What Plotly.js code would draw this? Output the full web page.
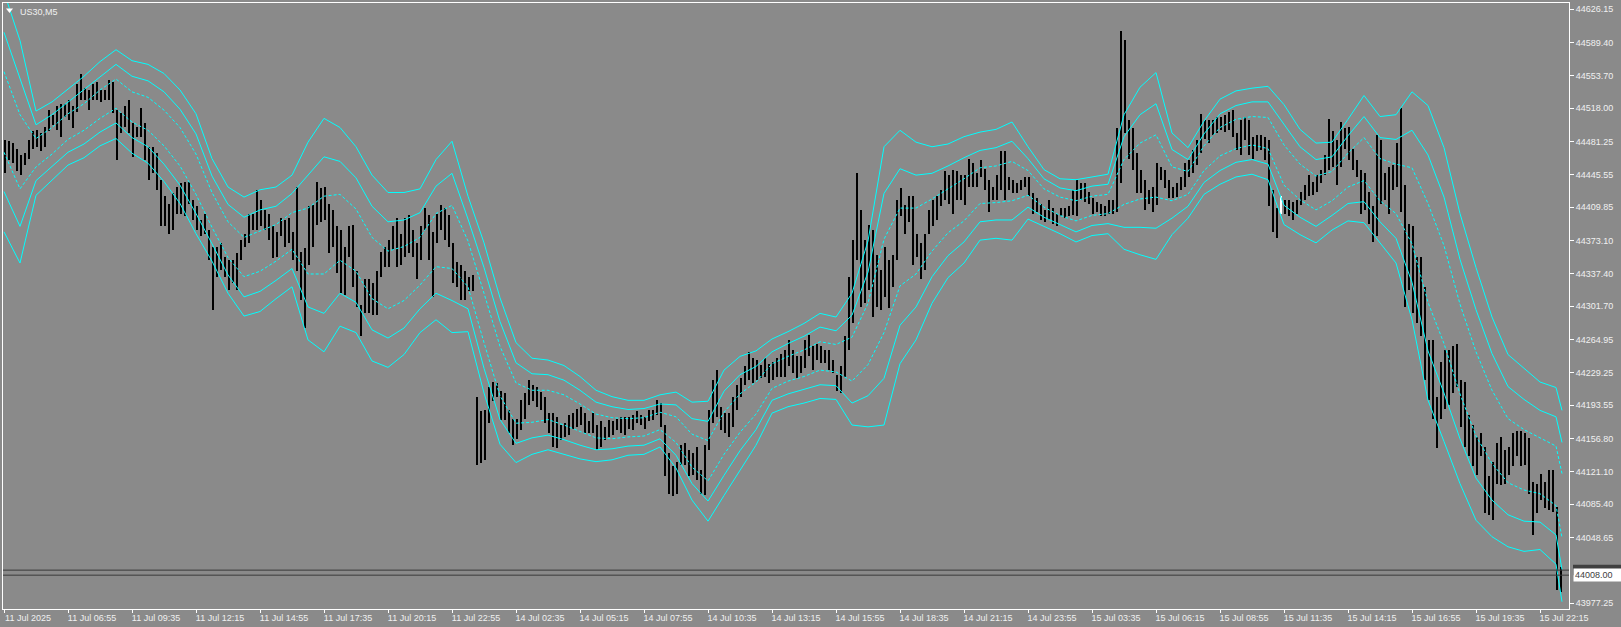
<!DOCTYPE html>
<html><head><meta charset="utf-8">
<script src="https://cdn.plot.ly/plotly-3.0.1.min.js"></script>
<style>html,body{margin:0;padding:0;background:#8a8a8a;overflow:hidden}#chart{width:1621px;height:627px}</style>
</head><body><div id="chart"></div>
<script>
const symbolTitle = 'US30,M5';
const timeLabels = ['11 Jul 2025','11 Jul 06:55','11 Jul 09:35','11 Jul 12:15','11 Jul 14:55','11 Jul 17:35','11 Jul 20:15','11 Jul 22:55','14 Jul 02:35','14 Jul 05:15','14 Jul 07:55','14 Jul 10:35','14 Jul 13:15','14 Jul 15:55','14 Jul 18:35','14 Jul 21:15','14 Jul 23:55','15 Jul 03:35','15 Jul 06:15','15 Jul 08:55','15 Jul 11:35','15 Jul 14:15','15 Jul 16:55','15 Jul 19:35','15 Jul 22:15'];
const priceTicks = [44626.15,44589.40,44553.70,44518.00,44481.25,44445.55,44409.85,44373.10,44337.40,44301.70,44264.95,44229.25,44193.55,44156.80,44121.10,44085.40,44048.65,43977.25];
const askPrice = 44013.50;
const bidPrice = 44008.00;
const markedBar = 319;

// high / low of each pair of M5 bars
const barHigh = [
44483,44482,44480,44473,44467,44469,44483,44493,44494,44491,
44498,44516,44511,44520,44523,44523,44527,44520,44545,44556,
44540,44538,44545,44547,44538,44538,44549,44547,44516,44513,
44520,44527,44502,44498,44518,44502,44476,44476,44469,44440,
44422,44414,44425,44432,44436,44438,44438,44418,44411,44396,
44403,44385,44367,44367,44371,44356,44352,44352,44360,44374,
44381,44403,44403,44429,44418,44407,44403,44389,44383,44398,
44396,44398,44383,44432,44361,44365,44411,44412,44438,44431,
44432,44414,44407,44389,44385,44367,44389,44391,44340,44303,
44331,44331,44327,44340,44361,44367,44374,44389,44398,44381,
44398,44401,44385,44371,44389,44409,44401,44383,44403,44412,
44409,44401,44371,44350,44347,44340,44334,44336,44203,44187,
44188,44214,44219,44218,44209,44207,44188,44179,44179,44199,
44207,44221,44216,44214,44208,44203,44185,44185,44181,44172,
44174,44183,44185,44190,44192,44185,44176,44185,44172,44176,
44170,44178,44176,44179,44181,44181,44181,44183,44187,44183,
44181,44188,44188,44199,44196,44172,44141,44127,44132,44150,
44152,44145,44141,44148,44123,44150,44188,44221,44232,44192,
44185,44185,44203,44216,44223,44236,44252,44245,44243,44238,
44245,44239,44241,44245,44250,44254,44265,44254,44247,44247,
44265,44270,44258,44261,44258,44254,44254,44243,44227,44236,
44269,44334,44374,44447,44407,44374,44391,44385,44358,44341,
44367,44352,44358,44418,44431,44412,44422,44422,44381,44371,
44381,44407,44418,44422,44429,44449,44445,44451,44449,44445,
44445,44463,44458,44447,44462,44452,44440,44432,44445,44471,
44471,44443,44440,44436,44440,44443,44443,44425,44420,44414,
44407,44418,44409,44403,44409,44409,44411,44429,44440,44436,
44436,44427,44420,44416,44414,44411,44418,44418,44496,44602,
44593,44505,44496,44469,44451,44440,44429,44432,44458,44454,
44451,44440,44432,44436,44443,44458,44462,44472,44483,44512,
44505,44505,44505,44509,44509,44511,44514,44516,44491,44505,
44509,44505,44487,44489,44489,44487,44483,44429,44409,44422,
44418,44418,44416,44418,44427,44434,44445,44438,44445,44451,
44467,44506,44493,44483,44503,44496,44498,44474,44462,44451,
44447,44427,44411,44489,44483,44447,44454,44456,44480,44518,
44434,44392,44389,44356,44356,44323,44265,44265,44203,44241,
44254,44254,44258,44260,44221,44219,44183,44172,44159,44163,
44148,44116,44132,44152,44159,44145,44148,44163,44165,44165,
44163,44158,44110,44108,44119,44110,44123,44123,44083,44017];
const barLow = [
44447,44462,44458,44449,44445,44456,44463,44474,44476,44471,
44476,44493,44500,44494,44487,44509,44505,44496,44514,44527,
44527,44516,44527,44527,44525,44527,44527,44513,44462,44491,
44498,44491,44465,44487,44487,44462,44440,44447,44429,44389,
44389,44381,44385,44403,44403,44400,44414,44396,44385,44378,
44381,44352,44298,44334,44341,44334,44320,44327,44320,44352,
44367,44371,44385,44385,44389,44385,44374,44354,44356,44378,
44367,44371,44352,44340,44309,44278,44347,44367,44391,44394,
44396,44360,44367,44338,44316,44314,44356,44323,44301,44269,
44294,44294,44292,44292,44334,44345,44345,44363,44345,44347,
44356,44360,44356,44332,44352,44385,44352,44312,44371,44385,
44374,44367,44327,44323,44309,44309,44318,44318,44128,44130,
44134,44174,44198,44203,44178,44178,44163,44150,44157,44167,
44179,44194,44198,44192,44188,44174,44163,44148,44147,44156,
44159,44161,44168,44170,44172,44163,44163,44163,44145,44148,
44156,44159,44161,44167,44163,44161,44168,44167,44174,44172,
44168,44176,44177,44183,44170,44116,44097,44094,44097,44128,
44128,44116,44117,44112,44097,44096,44145,44174,44181,44167,
44163,44159,44170,44188,44203,44216,44221,44218,44221,44223,
44225,44218,44221,44225,44225,44225,44236,44229,44223,44229,
44234,44247,44232,44243,44240,44240,44232,44229,44209,44207,
44225,44254,44283,44352,44301,44305,44320,44290,44301,44298,
44312,44300,44323,44352,44400,44381,44394,44347,44356,44331,
44341,44381,44389,44396,44411,44418,44414,44403,44418,44418,
44412,44432,44432,44432,44443,44429,44405,44418,44418,44429,
44418,44429,44425,44425,44429,44432,44422,44403,44405,44396,
44394,44396,44392,44389,44400,44398,44400,44401,44400,44418,
44416,44414,44403,44405,44400,44400,44403,44403,44405,44436,
44491,44463,44451,44425,44425,44407,44414,44405,44412,44440,
44431,44420,44420,44421,44429,44432,44443,44447,44456,44469,
44485,44480,44489,44491,44494,44492,44494,44487,44472,44467,
44483,44467,44463,44471,44472,44461,44411,44383,44376,44402,
44403,44400,44396,44403,44412,44418,44422,44423,44427,44436,
44445,44451,44454,44434,44454,44473,44462,44451,44443,44403,
44407,44392,44372,44378,44414,44418,44403,44429,44432,44405,
44301,44320,44294,44283,44269,44221,44199,44179,44147,44179,
44189,44194,44207,44214,44170,44148,44138,44127,44117,44138,
44076,44074,44068,44108,44107,44108,44117,44127,44138,44127,
44128,44097,44052,44076,44090,44081,44079,44077,43992,43990];

// bands, sampled every 8 bars
const bandU3 = [
44645,44592,44515,44525,44539,44553,44569,44582,44570,44566,
44556,44538,44512,44463,44432,44421,44429,44432,44445,44481,
44507,44497,44476,44445,44426,44426,44430,44462,44482,44422,
44371,44311,44262,44245,44243,44237,44225,44210,44203,44199,
44199,44205,44208,44197,44198,44232,44247,44253,44266,44274,
44283,44294,44290,44316,44373,44476,44494,44481,44476,44479,
44487,44492,44495,44503,44476,44451,44441,44440,44443,44446,
44511,44541,44557,44491,44475,44504,44528,44537,44540,44542,
44522,44495,44480,44481,44506,44532,44509,44511,44536,44521,
44475,44403,44344,44290,44249,44234,44219,44213,44188];
const bandU2 = [
44601,44551,44500,44511,44525,44538,44553,44566,44553,44548,
44536,44517,44490,44444,44413,44399,44407,44411,44425,44445,
44465,44460,44442,44411,44394,44396,44404,44433,44447,44397,
44344,44285,44240,44228,44227,44221,44210,44197,44192,44189,
44190,44195,44194,44179,44176,44209,44227,44236,44252,44261,
44269,44279,44275,44292,44339,44425,44452,44445,44447,44455,
44464,44472,44475,44482,44463,44441,44431,44428,44433,44435,
44487,44511,44523,44473,44462,44490,44512,44521,44525,44525,
44500,44476,44462,44465,44488,44509,44486,44484,44494,44467,
44421,44353,44298,44250,44214,44200,44188,44181,44153];
const bandU1 = [
44558,44511,44485,44497,44512,44523,44538,44550,44536,44530,
44516,44497,44468,44426,44394,44377,44384,44391,44404,44409,
44422,44424,44408,44377,44362,44367,44377,44403,44412,44373,
44316,44258,44218,44210,44210,44205,44195,44184,44180,44179,
44180,44186,44181,44162,44155,44186,44206,44219,44239,44247,
44254,44263,44260,44268,44305,44375,44409,44409,44419,44430,
44441,44453,44455,44460,44450,44430,44421,44417,44422,44424,
44462,44480,44489,44454,44449,44477,44497,44506,44509,44508,
44478,44457,44444,44449,44469,44486,44463,44457,44453,44414,
44368,44304,44252,44210,44179,44167,44158,44149,44119];
const bandL1 = [
44470,44430,44454,44468,44484,44494,44507,44518,44503,44494,
44477,44455,44424,44388,44355,44334,44340,44351,44364,44337,
44337,44352,44340,44310,44299,44308,44325,44345,44343,44323,
44262,44204,44174,44175,44178,44172,44165,44158,44157,44159,
44160,44167,44153,44126,44111,44140,44164,44184,44212,44220,
44225,44232,44230,44220,44238,44273,44324,44337,44362,44382,
44395,44414,44415,44417,44423,44410,44401,44395,44401,44403,
44413,44419,44421,44417,44424,44450,44466,44474,44478,44474,
44434,44418,44407,44417,44432,44439,44417,44403,44370,44306,
44261,44206,44160,44130,44109,44101,44097,44084,44049];
const bandL2 = [
44427,44389,44439,44454,44470,44479,44492,44502,44486,44476,
44457,44434,44403,44370,44336,44312,44318,44330,44343,44301,
44294,44316,44306,44276,44267,44278,44299,44316,44308,44299,
44234,44178,44152,44158,44161,44156,44150,44145,44146,44149,
44150,44157,44139,44108,44089,44117,44144,44167,44199,44206,
44211,44216,44215,44196,44204,44223,44281,44301,44334,44357,
44372,44394,44396,44396,44410,44399,44391,44383,44390,44392,
44388,44388,44387,44398,44411,44437,44450,44459,44462,44457,
44412,44399,44389,44401,44414,44416,44394,44376,44328,44253,
44207,44157,44114,44090,44074,44067,44066,44052,44014];
const bandL3 = [
44383,44349,44423,44440,44456,44464,44477,44485,44469,44458,
44438,44414,44381,44351,44316,44291,44296,44310,44323,44265,
44252,44280,44273,44242,44235,44249,44273,44287,44273,44274,
44207,44151,44131,44140,44145,44140,44135,44132,44134,44139,
44140,44148,44125,44090,44067,44095,44123,44150,44185,44192,
44196,44201,44200,44172,44170,44172,44239,44265,44305,44333,
44349,44374,44376,44374,44397,44389,44381,44372,44379,44381,
44364,44358,44353,44380,44398,44424,44435,44443,44446,44440,
44391,44380,44371,44385,44395,44393,44371,44349,44287,44199,
44154,44108,44068,44050,44039,44034,44036,44020,43979];

const lastBar = barHigh.length * 2 - 1;
const barX = barHigh.map((_, k) => 2 * k + 0.5);
const barLen = barHigh.map((h, k) => h - barLow[k]);
const barColors = barHigh.map((_, k) => k === markedBar ? '#ffffff' : '#000000');
const bandX = bandU3.map((_, m) => Math.min(8 * m, lastBar));

const cyan = '#00ffff';
function band(y, dashed) {
  return {type: 'scatter', mode: 'lines', x: bandX, y: y, hoverinfo: 'skip',
    line: {color: cyan, width: 1, dash: dashed ? '3px,2px' : 'solid'}};
}

const traces = [
  {type: 'bar', x: barX, base: barLow, y: barLen, width: 1,
   marker: {color: barColors, line: {width: 0}}, hoverinfo: 'skip'},
  band(bandU3, false), band(bandU2, false), band(bandU1, true),
  band(bandL1, true), band(bandL2, false), band(bandL3, false)
];

const txt = '#f0f0f0';
const font = {family: 'Liberation Sans, Arial, sans-serif', size: 9, color: txt};
const pw = 1566, ph = 606;
const px = v => (v - 3) / pw, py = v => 1 - (v - 3) / ph;
const pricePerPx = (44633.03 - 43971.04) / ph;

const layout = {
  width: 1621, height: 627,
  margin: {l: 3, r: 52, t: 3, b: 18, pad: 0},
  paper_bgcolor: '#8a8a8a', plot_bgcolor: '#8a8a8a',
  showlegend: false, hovermode: false, bargap: 0, bargroupgap: 0,
  font: font,
  xaxis: {
    range: [-0.5, 782.5], fixedrange: true,
    tickvals: timeLabels.map((_, j) => 32 * j), ticktext: timeLabels,
    ticks: 'outside', ticklen: 3, tickcolor: '#ffffff', tickwidth: 1,
    showline: true, linecolor: '#ffffff', linewidth: 1, mirror: true,
    showgrid: false, zeroline: false, tickfont: font,
    ticklabelshift: 24, ticklabelstandoff: -3, tickangle: 0
  },
  yaxis: {
    range: [43971.04, 44633.03], fixedrange: true, side: 'right',
    tickvals: priceTicks, ticktext: priceTicks.map(v => v.toFixed(2)),
    ticks: 'outside', ticklen: 4, tickcolor: '#ffffff', tickwidth: 1,
    showline: true, linecolor: '#ffffff', linewidth: 1, mirror: true,
    showgrid: false, zeroline: false, tickfont: font
  },
  shapes: [
    {type: 'line', xref: 'paper', x0: 0, x1: 1, yref: 'y', y0: askPrice, y1: askPrice,
     line: {color: '#3a3a3a', width: 1}},
    {type: 'line', xref: 'paper', x0: 0, x1: 1, yref: 'y', y0: bidPrice, y1: bidPrice,
     line: {color: '#3a3a3a', width: 1}},
    {type: 'rect', xref: 'paper', x0: 1 + 4 / pw, x1: 1 + 52 / pw, yref: 'y',
     y0: askPrice - 5 * pricePerPx, y1: askPrice + 5.5 * pricePerPx,
     fillcolor: '#404040', line: {width: 0}},
    {type: 'path', xref: 'paper', yref: 'paper',
     path: `M ${px(6)} ${py(8.5)} L ${px(13)} ${py(8.5)} L ${px(9.5)} ${py(13)} Z`,
     fillcolor: '#ffffff', line: {width: 0}}
  ],
  annotations: [
    {xref: 'paper', yref: 'paper', x: 0, y: 1, xanchor: 'left', yanchor: 'top',
     xshift: 15, yshift: -2, text: symbolTitle, showarrow: false,
     font: {family: font.family, size: 9, color: txt}},
    {xref: 'paper', x: 1, xanchor: 'left', xshift: 4, yref: 'y', y: bidPrice, yanchor: 'middle',
     text: bidPrice.toFixed(2), showarrow: false, bgcolor: '#ffffff', borderpad: 1,
     width: 46, align: 'left', font: {family: font.family, size: 9, color: '#404040'}}
  ]
};

Plotly.newPlot('chart', traces, layout, {staticPlot: true, displayModeBar: false});
</script>
</body></html>
